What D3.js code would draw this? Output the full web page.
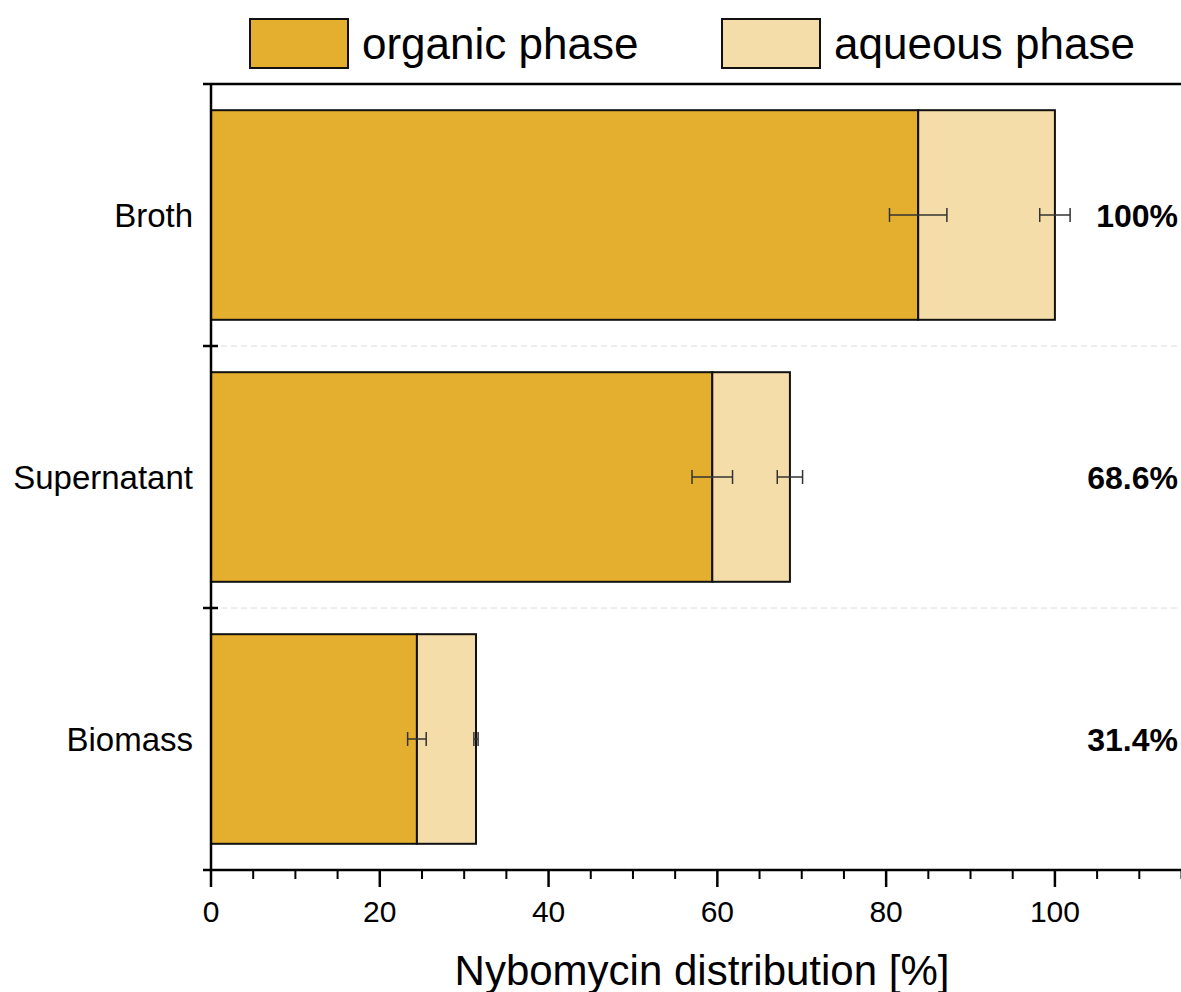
<!DOCTYPE html>
<html>
<head>
<meta charset="utf-8">
<script src="https://cdn.jsdelivr.net/npm/d3@7"></script>
<style>
  body { margin: 0; background: #fff; }
  svg { font-family: "Liberation Sans", Arial, sans-serif; }
</style>
</head>
<body>
<svg id="chart" width="1181" height="992"></svg>
<script>
//Nybomycin distribution between organic and aqueous phase

var categories = ["Broth", "Supernatant", "Biomass"];
var organic = [83.8, 59.4, 24.4];
var aqueous = [16.2, 9.2, 7.0];
var organicErr = [3.4, 2.4, 1.1];
var totalErr = [1.8, 1.5, 0.25];
var totalLabels = ["100%", "68.6%", "31.4%"];
var xTicks = [0, 20, 40, 60, 80, 100];
var seriesNames = ["organic phase", "aqueous phase"];
var colors = ["#e4af2f", "#f4dda9"];

var svg = d3.select("#chart");
var pLeft = 211, pRight = 1181, pTop = 84, pBottom = 870;

let rows = categories.map((c, i) => ({cat: c, organic: organic[i], aqueous: aqueous[i], i: i}));
let stacked = d3.stack().keys(["organic", "aqueous"])(rows);

let xScale = d3.scaleLinear().domain([0, 115]).range([pLeft, pRight + 0.5]);
let yScale = d3.scaleBand().domain(categories).range([pTop, pBottom])
  .paddingInner(0.2).paddingOuter(0.1);
let step = yScale.step();
let sepY = c => yScale(c) - yScale.paddingOuter() * step;

//dashed separators between categories
svg.append("g").selectAll("line").data(categories.slice(1)).enter().append("line")
  .attr("x1", pLeft).attr("x2", pRight)
  .attr("y1", d => sepY(d)).attr("y2", d => sepY(d))
  .attr("stroke", "#dcdcdc").attr("stroke-width", 1)
  .attr("stroke-dasharray", "6,4");

//bars
svg.append("g").selectAll("g").data(stacked).enter().append("g")
  .attr("fill", (d, i) => colors[i])
  .selectAll("rect").data(d => d).enter().append("rect")
  .attr("x", d => xScale(d[0]))
  .attr("y", d => yScale(d.data.cat))
  .attr("width", d => xScale(d[1]) - xScale(d[0]))
  .attr("height", yScale.bandwidth())
  .attr("stroke", "#111").attr("stroke-width", 2);

//error bars
let errs = [];
rows.forEach((r, i) => {
  errs.push({cat: r.cat, v: organic[i], e: organicErr[i]});
  errs.push({cat: r.cat, v: organic[i] + aqueous[i], e: totalErr[i]});
});
let eg = svg.append("g").attr("stroke", "#333").attr("stroke-width", 1.5);
errs.forEach(d => {
  let cy = yScale(d.cat) + yScale.bandwidth() / 2;
  eg.append("line").attr("x1", xScale(d.v - d.e)).attr("x2", xScale(d.v + d.e))
    .attr("y1", cy).attr("y2", cy);
  [d.v - d.e, d.v + d.e].forEach(x => {
    eg.append("line").attr("x1", xScale(x)).attr("x2", xScale(x))
      .attr("y1", cy - 7).attr("y2", cy + 7);
  });
});

//total labels
svg.append("g").selectAll("text").data(rows).enter().append("text")
  .attr("x", 1178)
  .attr("y", d => yScale(d.cat) + yScale.bandwidth() / 2)
  .attr("dy", "0.36em")
  .attr("text-anchor", "end")
  .attr("font-size", 32).attr("font-weight", "bold")
  .text(d => totalLabels[d.i]);

//category labels
svg.append("g").selectAll("text").data(categories).enter().append("text")
  .attr("x", 193)
  .attr("y", d => yScale(d) + yScale.bandwidth() / 2)
  .attr("dy", "0.36em")
  .attr("text-anchor", "end")
  .attr("font-size", 33)
  .text(d => d);

//frame: top line and left axis
svg.append("line").attr("x1", 203).attr("x2", pRight).attr("y1", pTop).attr("y2", pTop)
  .attr("stroke", "#000").attr("stroke-width", 2.5);
svg.append("line").attr("x1", pLeft).attr("x2", pLeft).attr("y1", pTop).attr("y2", pBottom)
  .attr("stroke", "#000").attr("stroke-width", 2.5);
let yTickPos = categories.slice(1).map(sepY);
svg.append("g").selectAll("line").data(yTickPos).enter().append("line")
  .attr("x1", 203).attr("x2", 218).attr("y1", d => d).attr("y2", d => d)
  .attr("stroke", "#000").attr("stroke-width", 2.5);

//x axis
svg.append("line").attr("x1", 203).attr("x2", pRight).attr("y1", pBottom).attr("y2", pBottom)
  .attr("stroke", "#000").attr("stroke-width", 2.5);
let minor = d3.range(0, 116, 5).filter(v => v % 20 !== 0);
svg.append("g").selectAll("line").data(minor).enter().append("line")
  .attr("x1", d => xScale(d)).attr("x2", d => xScale(d))
  .attr("y1", pBottom).attr("y2", pBottom + 9)
  .attr("stroke", "#000").attr("stroke-width", 2);
svg.append("g").selectAll("line").data(xTicks).enter().append("line")
  .attr("x1", d => xScale(d)).attr("x2", d => xScale(d))
  .attr("y1", pBottom).attr("y2", pBottom + 17)
  .attr("stroke", "#000").attr("stroke-width", 2.5);
svg.append("g").selectAll("text").data(xTicks).enter().append("text")
  .attr("x", d => xScale(d)).attr("y", 922)
  .attr("text-anchor", "middle").attr("font-size", 30)
  .text(d => d);

svg.append("text").attr("x", 702).attr("y", 985)
  .attr("text-anchor", "middle").attr("font-size", 42)
  .text("Nybomycin distribution [%]");

//legend
let legendX = [250, 722];
let lg = svg.append("g").selectAll("g").data(seriesNames).enter().append("g")
  .attr("transform", (d, i) => "translate(" + legendX[i] + ",19)");
lg.append("rect").attr("width", 98).attr("height", 49)
  .attr("fill", (d, i) => colors[i]).attr("stroke", "#111").attr("stroke-width", 2);
lg.append("text").attr("x", 112).attr("y", 40)
  .attr("font-size", 44).text(d => d);
</script>
</body>
</html>
